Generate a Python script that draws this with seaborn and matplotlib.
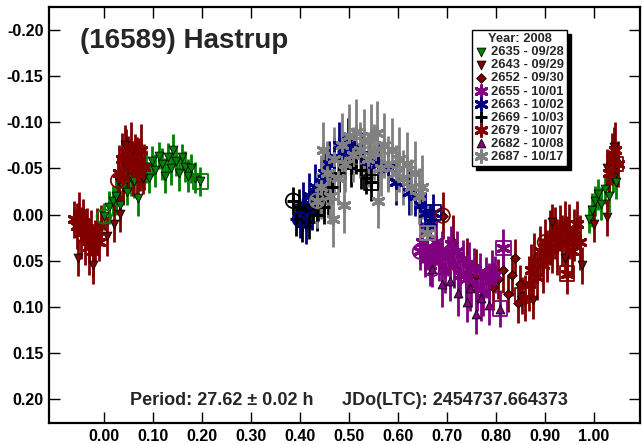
import numpy as np
import pandas as pd
import matplotlib
matplotlib.use('Agg')
import matplotlib.pyplot as plt
import seaborn as sns

# session 2635 - 09/28 (green, down triangles)
s2635_phase = [0.000, 0.010, 0.018, 0.025, 0.032, 0.040, 0.048, 0.055, 0.062, 0.070,
               0.078, 0.085, 0.092, 0.098, 0.105, 0.112, 0.118, 0.124, 0.130, 0.136,
               0.142, 0.148, 0.154, 0.160, 0.166, 0.172, 0.178, 0.185,
               0.990, 0.996, 1.002, 1.008, 1.015, 1.022, 1.030, 1.038, 1.044, 0.197]
s2635_mag = [0.002, -0.008, -0.015, -0.020, -0.010, -0.030, -0.025, -0.040, -0.036, -0.018,
             -0.045, -0.052, -0.040, -0.058, -0.048, -0.064, -0.055, -0.042, -0.062, -0.050,
             -0.070, -0.058, -0.045, -0.062, -0.052, -0.042, -0.050, -0.040,
             0.005, -0.005, -0.015, -0.022, -0.012, -0.028, -0.020, -0.040, -0.035, -0.036]
s2635_err = [0.015, 0.018, 0.016, 0.020, 0.017, 0.018, 0.015, 0.020, 0.018, 0.020,
             0.016, 0.018, 0.017, 0.016, 0.018, 0.015, 0.017, 0.019, 0.016, 0.018,
             0.017, 0.016, 0.019, 0.015, 0.017, 0.018, 0.016, 0.017,
             0.015, 0.018, 0.016, 0.017, 0.018, 0.016, 0.017, 0.016, 0.018, 0.016]

# session 2643 - 09/29 (dark red, down triangles)
s2643_phase = [0.029, -0.053, -0.030, -0.022, 0.006, 0.020, 0.033, 0.043, 0.050, 0.058,
               0.067, 0.074, 0.080, 0.876, 0.914, 0.940, 0.975, 1.000, 1.026, 1.026,
               1.040, 1.045]
s2643_mag = [-0.037, 0.047, 0.030, 0.055, 0.023, 0.010, -0.001, -0.075, -0.050, -0.060,
             -0.064, -0.048, -0.040, 0.093, 0.008, 0.047, 0.055, 0.010, 0.003, -0.051,
             -0.073, -0.055]
s2643_err = [0.025, 0.020, 0.022, 0.020, 0.022, 0.020, 0.020, 0.022, 0.025, 0.020,
             0.020, 0.022, 0.018, 0.020, 0.020, 0.022, 0.020, 0.020, 0.020, 0.020,
             0.022, 0.020]

# session 2652 - 09/30 (dark red, diamonds)
s2652_phase = [0.691, 0.712, 0.740, 0.760, 0.793, 0.805, 0.815, 0.825, 0.832, 0.839,
               0.845, 0.849, 0.853]
s2652_mag = [0.001, 0.030, 0.050, 0.065, 0.078, 0.070, 0.060, 0.086, 0.066, 0.047,
             0.096, 0.075, 0.088]
s2652_err = [0.025, 0.030, 0.025, 0.028, 0.025, 0.022, 0.025, 0.020, 0.022, 0.020,
             0.022, 0.020, 0.020]

# session 2655 - 10/01 (purple, asterisks)
s2655_phase = [0.645, 0.650, 0.655, 0.660, 0.666, 0.672, 0.678, 0.684, 0.690, 0.696,
               0.702, 0.708, 0.714, 0.720, 0.726, 0.732, 0.738, 0.744, 0.750, 0.756,
               0.762, 0.768, 0.774, 0.780, 0.786, 0.792, 0.798, 0.815]
s2655_mag = [0.040, 0.030, 0.048, 0.035, 0.055, 0.042, 0.030, 0.050, 0.038, 0.060,
             0.045, 0.032, 0.055, 0.040, 0.065, 0.048, 0.070, 0.052, 0.075, 0.058,
             0.080, 0.062, 0.085, 0.068, 0.072, 0.060, 0.065, 0.036]
s2655_err = [0.020, 0.022, 0.020, 0.025, 0.022, 0.020, 0.025, 0.022, 0.020, 0.025,
             0.022, 0.020, 0.025, 0.022, 0.025, 0.020, 0.025, 0.022, 0.025, 0.022,
             0.025, 0.020, 0.025, 0.022, 0.020, 0.022, 0.020, 0.020]

# session 2663 - 10/02 (navy, asterisks)
s2663_phase = [0.400, 0.406, 0.412, 0.418, 0.424, 0.430, 0.436, 0.442, 0.450, 0.460,
               0.470, 0.480, 0.490, 0.498, 0.510, 0.525, 0.540, 0.560, 0.580, 0.595,
               0.610, 0.622, 0.635, 0.645, 0.655, 0.665, 0.672]
s2663_mag = [0.005, -0.010, 0.010, -0.020, -0.005, -0.030, -0.015, -0.035, -0.045, -0.055,
             -0.062, -0.075, -0.068, -0.080, -0.072, -0.065, -0.058, -0.055, -0.050, -0.035,
             -0.040, -0.025, -0.020, -0.010, -0.002, 0.008, -0.002]
s2663_err = [0.020, 0.025, 0.022, 0.025, 0.022, 0.025, 0.022, 0.025, 0.022, 0.025,
             0.022, 0.025, 0.022, 0.025, 0.022, 0.025, 0.022, 0.025, 0.022, 0.025,
             0.022, 0.025, 0.022, 0.025, 0.022, 0.020, 0.020]

# session 2669 - 10/03 (black, plus)
s2669_phase = [0.386, 0.392, 0.398, 0.404, 0.410, 0.418, 0.426, 0.434, 0.442, 0.450,
               0.458, 0.466, 0.480, 0.492, 0.505, 0.515, 0.525, 0.535, 0.545]
s2669_mag = [-0.015, 0.005, -0.008, 0.012, -0.005, 0.008, -0.012, 0.000, -0.018, -0.008,
             -0.020, -0.030, -0.045, -0.055, -0.050, -0.062, -0.048, -0.040, -0.035]
s2669_err = [0.015, 0.018, 0.020, 0.018, 0.020, 0.018, 0.020, 0.018, 0.020, 0.018,
             0.020, 0.018, 0.020, 0.018, 0.020, 0.018, 0.020, 0.018, 0.020]

# session 2679 - 10/07 (dark red, asterisks)
s2679_phase = [0.900, -0.060, -0.055, -0.050, -0.046, -0.042, -0.038, -0.034, -0.030, -0.026,
               -0.022, -0.018, -0.014, -0.010, -0.006, 0.030, 0.036, 0.040, 0.045, 0.050,
               0.055, 0.060, 0.064, 0.068, 0.072, 0.076, 0.082, 0.860, 0.868, 0.872,
               0.878, 0.884, 0.890, 0.895, 0.905, 0.910, 0.915, 0.920, 0.925, 0.930,
               0.935, 0.940, 0.945, 0.950, 0.955, 0.960, 0.966, 0.972, 1.030, 1.036,
               1.042, 1.048, 0.945]
s2679_mag = [0.030, 0.005, 0.012, -0.002, 0.020, 0.008, 0.025, 0.015, 0.035, 0.020,
             0.040, 0.028, 0.018, 0.030, 0.012, -0.045, -0.060, -0.040, -0.068, -0.055,
             -0.072, -0.050, -0.062, -0.045, -0.058, -0.070, -0.052, 0.090, 0.075, 0.060,
             0.050, 0.068, 0.040, 0.055, 0.045, 0.025, 0.038, 0.020, 0.035, 0.015,
             0.028, 0.010, 0.030, 0.018, 0.040, 0.022, 0.010, 0.030, -0.045, -0.060,
             -0.070, -0.055, 0.064]
s2679_err = [0.025, 0.020, 0.025, 0.022, 0.028, 0.025, 0.030, 0.022, 0.030, 0.025,
             0.028, 0.022, 0.025, 0.020, 0.022, 0.030, 0.028, 0.030, 0.025, 0.030,
             0.028, 0.030, 0.025, 0.028, 0.025, 0.028, 0.025, 0.025, 0.030, 0.028,
             0.030, 0.025, 0.028, 0.030, 0.028, 0.030, 0.025, 0.028, 0.030, 0.025,
             0.028, 0.025, 0.028, 0.030, 0.025, 0.028, 0.025, 0.030, 0.025, 0.028,
             0.030, 0.025, 0.022]

# session 2682 - 10/08 (purple, up triangles)
s2682_phase = [0.670, 0.690, 0.706, 0.722, 0.740, 0.748, 0.760, 0.770, 0.785, 0.808]
s2682_mag = [0.059, 0.075, 0.072, 0.085, 0.095, 0.080, 0.108, 0.090, 0.098, 0.102]
s2682_err = [0.020, 0.025, 0.022, 0.025, 0.022, 0.025, 0.022, 0.025, 0.022, 0.020]

# session 2687 - 10/17 (gray, asterisks)
s2687_phase = [0.435, 0.442, 0.448, 0.455, 0.462, 0.468, 0.470, 0.478, 0.485, 0.490,
               0.492, 0.500, 0.508, 0.515, 0.522, 0.530, 0.538, 0.545, 0.552, 0.558,
               0.560, 0.565, 0.572, 0.580, 0.588, 0.595, 0.602, 0.610, 0.618, 0.626,
               0.634, 0.642, 0.650, 0.660]
s2687_mag = [-0.015, -0.030, -0.070, -0.045, -0.020, 0.005, -0.060, -0.040, -0.075, -0.010,
             -0.055, -0.085, -0.065, -0.090, -0.070, -0.080, -0.060, -0.085, -0.068, -0.088,
             -0.015, -0.050, -0.075, -0.055, -0.070, -0.045, -0.060, -0.040, -0.055, -0.030,
             -0.045, -0.020, -0.030, 0.020]
s2687_err = [0.030, 0.035, 0.030, 0.035, 0.030, 0.030, 0.035, 0.030, 0.035, 0.030,
             0.030, 0.035, 0.030, 0.035, 0.030, 0.035, 0.030, 0.035, 0.030, 0.035,
             0.030, 0.030, 0.035, 0.030, 0.035, 0.030, 0.035, 0.030, 0.035, 0.030,
             0.035, 0.030, 0.035, 0.030]

session_names = ['2635 - 09/28', '2643 - 09/29', '2652 - 09/30', '2655 - 10/01',
                 '2663 - 10/02', '2669 - 10/03', '2679 - 10/07', '2682 - 10/08',
                 '2687 - 10/17']
session_data = [(s2635_phase, s2635_mag, s2635_err), (s2643_phase, s2643_mag, s2643_err),
                (s2652_phase, s2652_mag, s2652_err), (s2655_phase, s2655_mag, s2655_err),
                (s2663_phase, s2663_mag, s2663_err), (s2669_phase, s2669_mag, s2669_err),
                (s2679_phase, s2679_mag, s2679_err), (s2682_phase, s2682_mag, s2682_err),
                (s2687_phase, s2687_mag, s2687_err)]
session_colors = ['#008000', '#800000', '#800000', '#800080', '#000080',
                  '#000000', '#800000', '#800080', '#808080']
asterisk = (6, 2, 0)
session_markers = ['v', 'v', 'D', asterisk, asterisk, '+', asterisk, '^', asterisk]
session_sizes = [40, 40, 24, 70, 70, 70, 70, 40, 70]

sns.set_theme(style='ticks')
plt.rcParams['font.family'] = ['Liberation Sans', 'DejaVu Sans']
plt.rcParams['font.weight'] = 'bold'

fig = plt.figure(figsize=(6.42, 4.44), dpi=100)
ax = fig.add_axes([0.0763, 0.0473, 0.9207, 0.9367])

for name, (ph, mg, er), col, mk, sz in zip(session_names, session_data, session_colors,
                                          session_markers, session_sizes):
    df = pd.DataFrame({'phase': ph, 'mag': mg, 'err': er})
    ax.errorbar(df['phase'], df['mag'], yerr=df['err'], fmt='none',
                ecolor=col, elinewidth=2.0, capsize=0, zorder=2)
    filled = mk in ('v', '^', 'D')
    if filled:
        sns.scatterplot(data=df, x='phase', y='mag', marker=mk, s=sz, color=col,
                        edgecolor='black', linewidth=0.6, ax=ax, label=name, zorder=3)
    else:
        sns.scatterplot(data=df, x='phase', y='mag', marker=mk, s=sz, color=col,
                        linewidth=2.2, ax=ax, label=name, zorder=3)
    # first point: open circle, last point: open square
    sns.scatterplot(data=df.iloc[[0]], x='phase', y='mag', marker='o', s=110,
                    facecolor='none', edgecolor=col, linewidth=1.3, ax=ax, zorder=4)
    sns.scatterplot(data=df.iloc[[-1]], x='phase', y='mag', marker='s', s=110,
                    facecolor='none', edgecolor=col, linewidth=1.3, ax=ax, zorder=4)


def fmt2(v, pos):
    s = f'{v:.2f}'
    return '0.00' if s == '-0.00' else s


ax.set_xlim(-0.112, 1.094)
ax.set_ylim(0.226, -0.225)
ax.set_xticks(np.arange(0.0, 1.01, 0.1))
ax.set_yticks(np.arange(-0.20, 0.201, 0.05))
ax.xaxis.set_major_formatter(matplotlib.ticker.FuncFormatter(fmt2))
ax.yaxis.set_major_formatter(matplotlib.ticker.FuncFormatter(fmt2))
ax.tick_params(direction='in', length=8, width=1, top=True, right=True,
               labelsize=11.5, colors='black', pad=4)
for lab in ax.get_xticklabels() + ax.get_yticklabels():
    lab.set_fontweight('bold')
ax.set_xlabel('')
ax.set_ylabel('')
for sp in ax.spines.values():
    sp.set_visible(True)
    sp.set_linewidth(1.6)
    sp.set_color('black')

ax.text(0.052, 0.918, '(16589) Hastrup', transform=ax.transAxes, fontsize=20,
        fontweight='bold', va='center', ha='left')
ax.text(0.137, 0.055, 'Period: 27.62 \u00b1 0.02 h', transform=ax.transAxes,
        fontsize=13, fontweight='bold', va='center', ha='left')
ax.text(0.496, 0.055, 'JDo(LTC): 2454737.664373', transform=ax.transAxes,
        fontsize=13, fontweight='bold', va='center', ha='left')

leg = ax.legend(loc='upper left', bbox_to_anchor=(0.716, 0.945), title='Year: 2008',
                prop={'weight': 'bold', 'size': 9.3},
                title_fontproperties={'weight': 'bold', 'size': 9.3},
                frameon=True, fancybox=False, framealpha=1, edgecolor='black',
                shadow={'ox': 3, 'oy': -3, 'color': 'black', 'alpha': 1},
                labelspacing=0.08, handletextpad=0.3, handlelength=0.9, borderpad=0.25,
                borderaxespad=0)
leg.get_frame().set_linewidth(1.0)

fig.savefig('out.png', dpi=100)
plt.close(fig)
